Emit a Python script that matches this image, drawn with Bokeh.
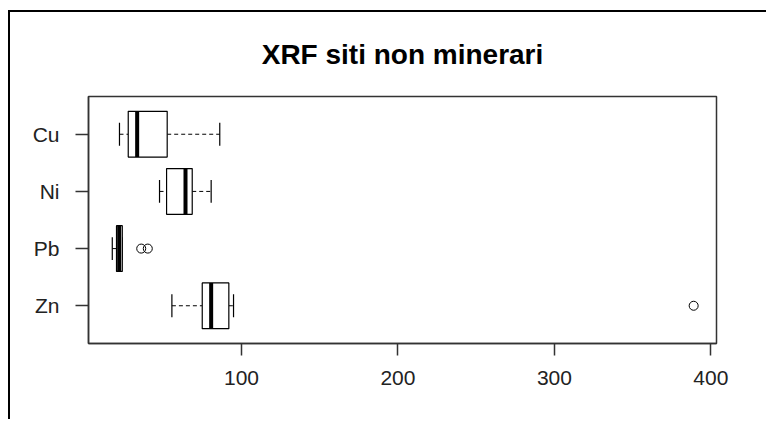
from bokeh.plotting import figure
from bokeh.models import Range1d, FixedTicker
from bokeh.embed import file_html
from bokeh.resources import INLINE

# ---- data ----
categories = ["Zn", "Pb", "Ni", "Cu"]          # bottom -> top
whisker_lo = [55.5, 17.4, 47.6, 22.0]
q1         = [74.9, 20.1, 52.1, 27.6]
median     = [80.6, 21.8, 64.2, 33.3]
q3         = [91.9, 23.8, 68.5, 52.5]
whisker_hi = [94.9, 23.8, 80.6, 86.1]
outlier_cat = ["Zn", "Pb", "Pb"]
outlier_val = [389.0, 35.9, 40.1]
x_ticks = [100, 200, 300, 400]
title_text = "XRF siti non minerari"

FONT = "Liberation Sans"
BOXW = 0.8
STAPLE = 0.4

pos = {c: i + 1 for i, c in enumerate(categories)}
ys = [pos[c] for c in categories]

p = figure(width=758, height=409, output_backend="svg", toolbar_location=None,
           x_range=Range1d(2.2, 403.6), y_range=Range1d(0.34, 4.66),
           min_border_left=78, min_border_right=52, min_border_top=84,
           min_border_bottom=78)
p.styles = {"margin-top": "10px", "margin-left": "8px",
            "border-top": "2px solid black", "border-left": "2px solid black"}

p.grid.visible = False
p.outline_line_color = "#333333"
p.outline_line_width = 1.5
p.background_fill_color = "white"
p.border_fill_color = "white"

p.title.text = title_text
p.title.align = "center"
p.title.vertical_align = "top"
p.title.text_font = FONT
p.title.text_font_size = "28px"
p.title.text_font_style = "bold"
p.title.text_color = "black"
p.title.standoff = 50

# whiskers (dashed)
p.segment(x0=whisker_lo, y0=ys, x1=q1, y1=ys, line_color="black",
          line_width=1, line_dash="4 3")
p.segment(x0=q3, y0=ys, x1=whisker_hi, y1=ys, line_color="black",
          line_width=1, line_dash="4 3")
# staples
p.segment(x0=whisker_lo, y0=[y - STAPLE / 2 for y in ys], x1=whisker_lo,
          y1=[y + STAPLE / 2 for y in ys], line_color="black", line_width=1.2)
p.segment(x0=whisker_hi, y0=[y - STAPLE / 2 for y in ys], x1=whisker_hi,
          y1=[y + STAPLE / 2 for y in ys], line_color="black", line_width=1.2)
# boxes
p.quad(left=q1, right=q3, bottom=[y - BOXW / 2 for y in ys],
       top=[y + BOXW / 2 for y in ys], fill_color="white",
       line_color="black", line_width=1.2)
# medians
p.segment(x0=median, y0=[y - BOXW / 2 for y in ys], x1=median,
          y1=[y + BOXW / 2 for y in ys], line_color="black", line_width=4)
# outliers
p.scatter(x=outlier_val, y=[pos[c] for c in outlier_cat], marker="circle",
          size=9, fill_color=None, line_color="black", line_width=1)

# axes
xa = p.xaxis[0]
xa.ticker = FixedTicker(ticks=x_ticks)
xa.minor_tick_line_color = None
xa.major_tick_in = 0
xa.major_tick_out = 12
xa.major_tick_line_color = "#333333"
xa.major_tick_line_width = 1.5
xa.axis_line_color = "#333333"
xa.axis_line_width = 1.5
xa.major_label_text_font = FONT
xa.major_label_text_font_size = "21px"
xa.major_label_text_color = "#222222"
xa.major_label_standoff = 15

ya = p.yaxis[0]
ya.ticker = FixedTicker(ticks=ys)
ya.major_label_overrides = {pos[c]: c for c in categories}
ya.minor_tick_line_color = None
ya.major_tick_in = 0
ya.major_tick_out = 13
ya.major_tick_line_color = "#333333"
ya.major_tick_line_width = 1.5
ya.axis_line_color = "#333333"
ya.axis_line_width = 1.5
ya.major_label_orientation = "horizontal"
ya.major_label_text_font = FONT
ya.major_label_text_font_size = "21px"
ya.major_label_text_color = "#222222"
ya.major_label_standoff = 16

open("out.html", "w").write(file_html(p, INLINE))
